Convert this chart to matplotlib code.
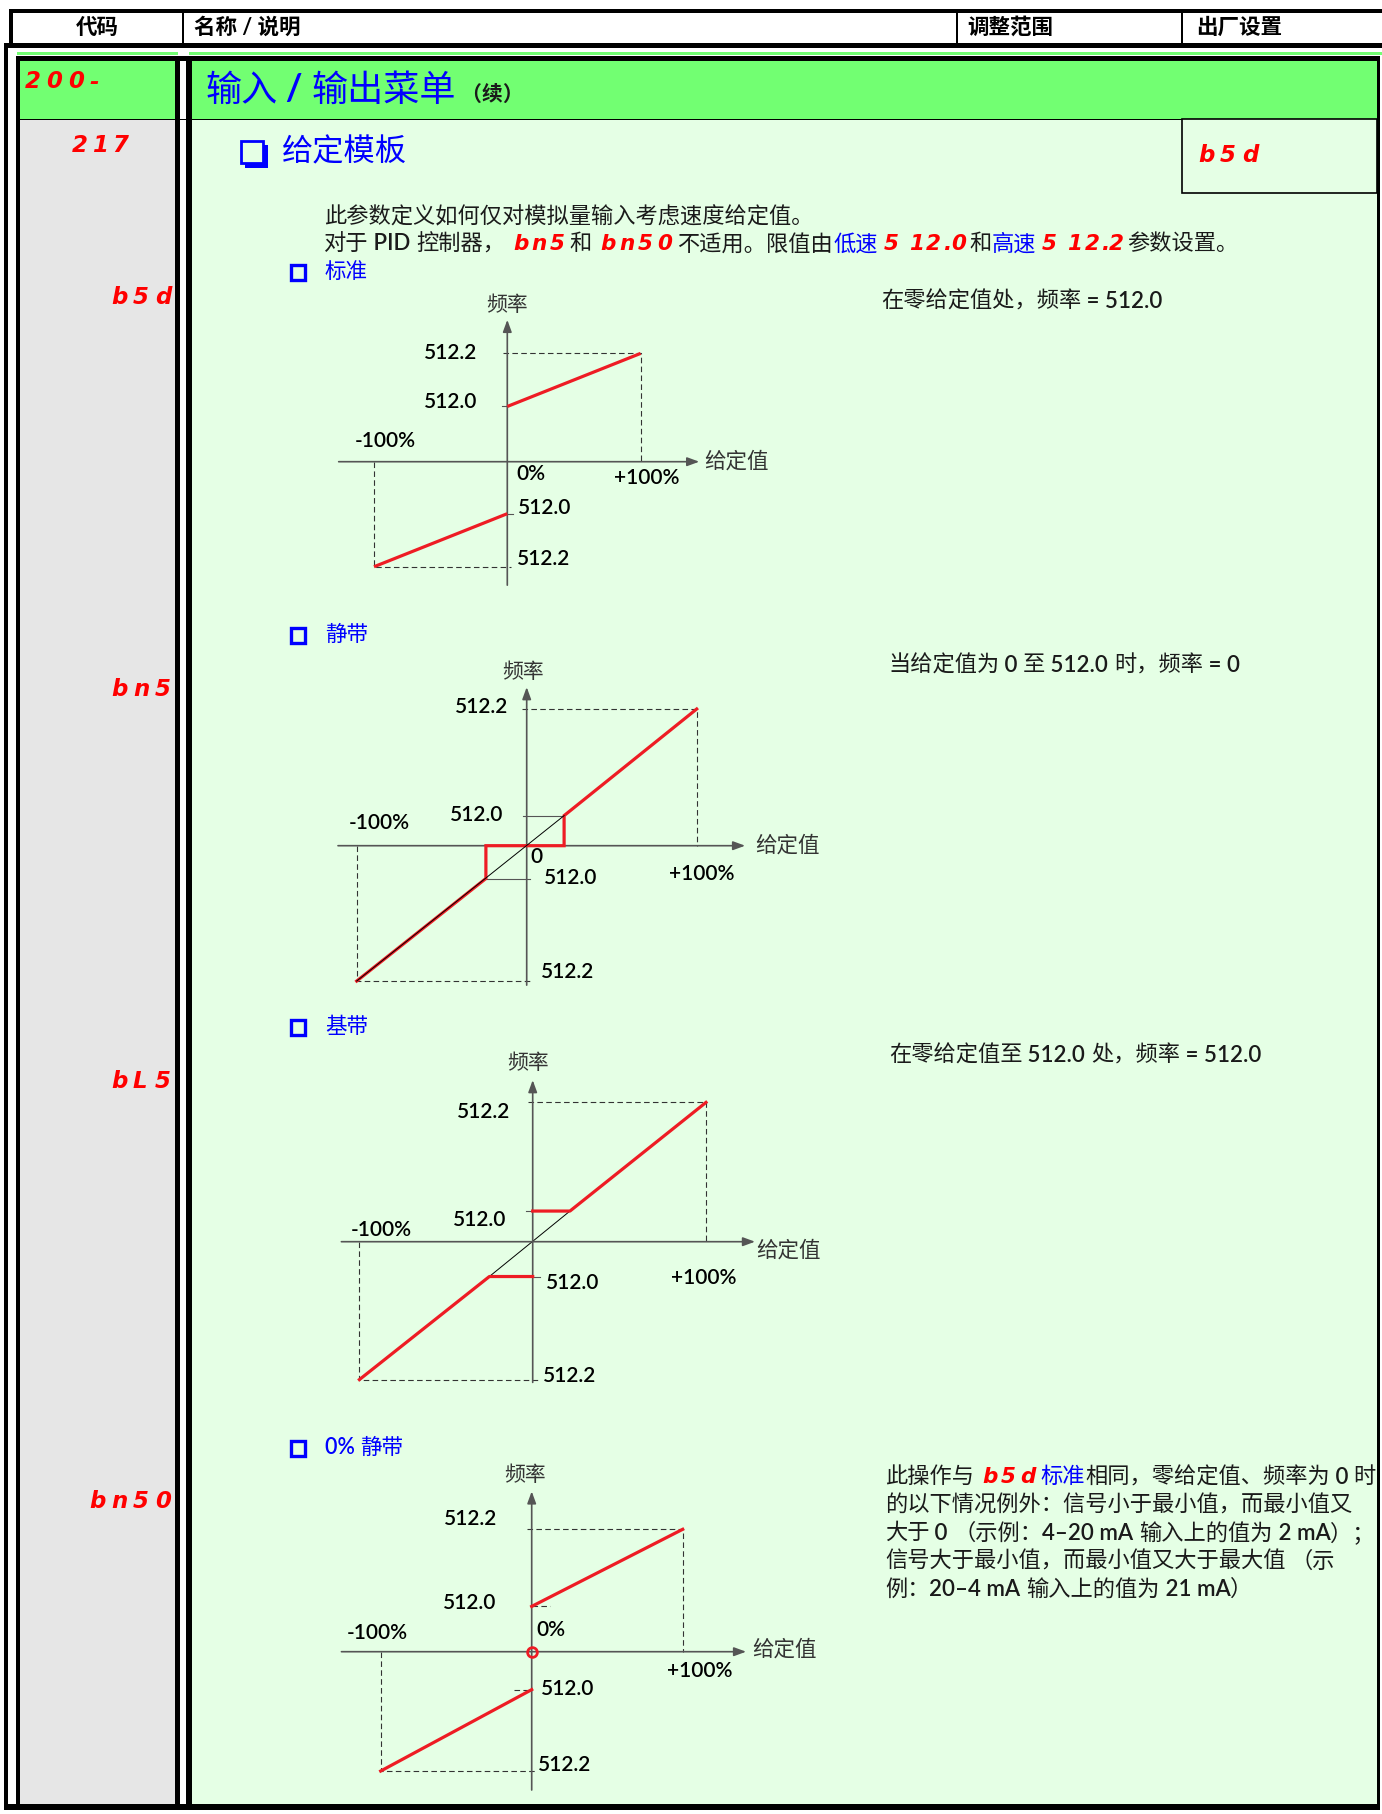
import re
import matplotlib
matplotlib.use('Agg')
import matplotlib.pyplot as plt
from matplotlib.patches import Rectangle

plt.rcParams['font.family'] = ['Lato', 'Noto Sans CJK SC', 'DejaVu Sans']

W, H = 1382, 1814

# ---------------- data ----------------
header_cols = ['代码', '名称 / 说明', '调整范围', '出厂设置']
menu_code = '200-'
param_code = '217'
factory_value = 'b5d'
LSP_LABEL = '512.0'
HSP_LABEL = '512.2'
x_labels = ['-100%', '+100%']

# x: reference in %, y: frequency as fraction of the high-speed level (schematic)
std_code, std_name = 'b5d', '标准'
std_pos_x = [0, 100]
std_pos_y = [0.51, 1.0]
std_neg_x = [-100, 0]
std_neg_y = [-0.97, -0.48]

bn5_code, bn5_name = 'bn5', '静带'
bn5_x = [-100, -24, -24, 22, 22, 100]
bn5_y = [-0.99, -0.24, 0.0, 0.0, 0.22, 1.0]
bn5_guide_x = [-100, 22]
bn5_guide_y = [-0.99, 0.22]

bl5_code, bl5_name = 'bL5', '基带'
bl5_neg_x = [-100, -25, 0]
bl5_neg_y = [-0.99, -0.25, -0.25]
bl5_pos_x = [0, 21.5, 100]
bl5_pos_y = [0.22, 0.22, 1.0]
bl5_guide_x = [-25, 21.5]
bl5_guide_y = [-0.25, 0.22]

bn50_code, bn50_name = 'bn50', '0% 静带'
bn50_pos_x = [0, 100]
bn50_pos_y = [0.37, 1.0]
bn50_neg_x = [-100, 0]
bn50_neg_y = [-0.975, -0.31]

RED = '#EE1C24'
BLUE = '#0000FF'
TXT = '#1a1a1a'
GREEN = '#72FF72'
LIGHT = '#E5FFE5'
GRAY = '#E6E6E6'
NUMW = 'semibold'

fig = plt.figure(figsize=(W / 100, H / 100), dpi=100)
pg = fig.add_axes([0, 0, 1, 1])
pg.set_xlim(0, W)
pg.set_ylim(H, 0)
pg.axis('off')
renderer = fig.canvas.get_renderer()


def box(x0, y0, x1, y1, fc, ec='none', lw=0, z=1):
    pg.add_patch(Rectangle((x0, y0), x1 - x0, y1 - y0, facecolor=fc,
                           edgecolor=ec, linewidth=lw, zorder=z))


def seg(x, y, s, size=16.5, pitch=22, ha='left'):
    """red seven-segment style code"""
    gw = size * 0.8
    steps = [pitch * (0.45 if c == '.' else 0.5 if c == ' ' else 1) for c in s]
    if ha == 'right':
        x -= sum(steps) - pitch + gw
    for c, st in zip(s, steps):
        if c != ' ':
            pg.text(x, y, c, fontsize=size, color='red', family='DejaVu Sans',
                    style='oblique', weight='bold', va='center', ha='left', zorder=5)
        x += st
    return x - pitch + gw


def rich(x, y, parts, size=16):
    for txt, kw in parts:
        if kw.get('seg'):
            x = seg(x + kw.get('pad', 8), y, txt, size=kw.get('size', 15.5),
                    pitch=kw.get('pitch', 18)) + kw.get('pad', 8)
            continue
        runs = [txt] if kw.get('weight') else re.findall(r'[ -~–]+|[^ -~–]+', txt)
        for r in runs:
            latin = re.match(r'[ -~–]', r) is not None
            w = kw.get('weight', NUMW if latin else 'normal')
            t = pg.text(x, y + kw.get('dy', 0), r, fontsize=kw.get('size', size),
                        color=kw.get('color', TXT), weight=w,
                        va='center', ha='left', zorder=5)
            x += t.get_window_extent(renderer).width
    return x


# ---------------- page frame ----------------
# header
box(9, 9, W, 13, 'black')
box(9, 9, 13, 48, 'black')
box(3.6, 43, W, 48, 'black')
for xd in [183, 957, 1182]:
    box(xd - 0.7, 13, xd + 0.7, 43, 'black')
pg.text(97, 27, header_cols[0], fontsize=15.5, weight='bold', ha='center', va='center')
for xt, s in zip([194, 967, 1196], header_cols[1:]):
    pg.text(xt, 27, s, fontsize=15.5, weight='bold', ha='left', va='center')

# body
box(3.6, 43, 8, 1810, 'black')
box(17, 52, 178, 55, GREEN)
box(189, 52, W, 55, GREEN)
box(15.6, 56, 1380, 61, 'black')
box(20, 61, 175, 119, GREEN)
box(192, 61, 1377, 119, GREEN)
box(20, 119, 175, 1804, GRAY)
box(192, 119, 1377, 1804, LIGHT)
box(20, 118.5, 1377, 120, 'black', z=2)
box(15.6, 56, 20, 1810, 'black')
box(175, 56, 180, 1810, 'black')
box(186, 56, 192, 1810, 'black')
box(1377, 56, 1380, 1810, 'black')
box(3.6, 1804, 1380, 1810, 'black')
box(1182, 119, 1377, 193, LIGHT, ec='black', lw=1.2, z=2)

# codes
seg(25, 82, menu_code, pitch=21.5)
seg(72, 146, param_code, pitch=20)
seg(1198, 155, factory_value)
seg(168, 298, std_code, ha='right')
seg(168, 689, bn5_code, ha='right')
seg(168, 1081, bl5_code, ha='right')
seg(168, 1501, bn50_code, ha='right')

# title row
rich(205, 90, [('输入', dict(color=BLUE, size=26)),
               (' / ', dict(color=BLUE, size=26, weight='bold')),
               ('输出菜单', dict(color=BLUE, size=26)),
               (' （续）', dict(size=15, weight='bold', dy=5))])

# parameter heading with shadowed box
box(245, 145, 268, 168, BLUE, z=3)
box(241, 141, 263, 163, LIGHT, ec=BLUE, lw=2, z=4)
pg.text(282, 152, '给定模板', fontsize=22.5, color=BLUE, va='center', ha='left')

rich(324, 217, [('此参数定义如何仅对模拟量输入考虑速度给定值。', {})])
rich(324, 244, [('对于 PID 控制器，', {}), ('bn5', dict(seg=True)), ('和', {}),
                ('bn50', dict(seg=True, pitch=19)), ('不适用。限值由', {}),
                ('低速', dict(color=BLUE)), ('5 12.0', dict(seg=True, pitch=17, pad=6)),
                ('和', {}), ('高速', dict(color=BLUE)),
                ('5 12.2', dict(seg=True, pitch=17, pad=6)), ('参数设置。', {})])

# sub headings
for yy, name in [(272, std_name), (635, bn5_name), (1027, bl5_name), (1448, bn50_name)]:
    box(291, yy - 7.5, 305, yy + 7.5, 'none', ec=BLUE, lw=2.4, z=3)
    rich(325, yy, [(name, dict(color=BLUE, size=15.5))])

# right-hand remarks
rich(881, 301, [('在零给定值处，频率 = 512.0', {})])
rich(888, 665, [('当给定值为 0 至 512.0 时，频率 = 0', {})])
rich(889, 1055, [('在零给定值至 512.0 处，频率 = 512.0', {})])
para_y = [1477, 1505.5, 1533, 1561, 1589]
rich(885, para_y[0], [('此操作与', {}), ('b5d', dict(seg=True, pitch=19)),
                      ('标准', dict(color=BLUE)), ('相同，零给定值、频率为 0 时', {})])
rich(885, para_y[1], [('的以下情况例外：信号小于最小值，而最小值又', {})])
rich(885, para_y[2], [('大于 0 （示例：4–20 mA 输入上的值为 2 mA）；', {})])
rich(885, para_y[3], [('信号大于最小值，而最小值又大于最大值 （示', {})])
rich(885, para_y[4], [('例：20–4 mA 输入上的值为 21 mA）', {})])


# ---------------- diagrams ----------------
def diagram(ox, oy, sx, sy, xext, yext):
    pad = 12
    xl, xr = xext[0] - pad, xext[1] + pad
    yb, yt = yext[0] - 0.1, yext[1] + 0.1
    left = ox + xl * sx
    top = oy - yt * sy
    ax = fig.add_axes([left / W, 1 - (top + (yt - yb) * sy) / H,
                       (xr - xl) * sx / W, (yt - yb) * sy / H])
    ax.set_xlim(xl, xr)
    ax.set_ylim(yb, yt)
    ax.axis('off')
    ax.patch.set_visible(False)
    ap = dict(arrowstyle='-|>,head_length=0.6,head_width=0.22', color='#555',
              lw=1.2, shrinkA=0, shrinkB=0, mutation_scale=12)
    ax.annotate('', xy=(xext[1], 0), xytext=(xext[0], 0), arrowprops=ap)
    ax.annotate('', xy=(0, yext[1]), xytext=(0, yext[0]), arrowprops=ap)
    return ax


def frame(ax, top, bot, x0=-3):
    kw = dict(color='#333', lw=0.8, ls=(0, (5, 3)), zorder=1)
    ax.plot([x0, 100, 100], [top, top, 0], **kw)
    ax.plot([-100, -100, -x0], [0, bot, bot], **kw)


def labels(items):
    for s, x, y, ha in items:
        pg.text(x, y, s, fontsize=15, color='black', weight=NUMW,
                ha=ha, va='center', zorder=6)


def axis_names(fx, fy, gx, gy):
    pg.text(fx, fy, '频率', fontsize=15, color='#333', ha='center', va='center', zorder=6)
    pg.text(gx, gy, '给定值', fontsize=15.5, color='#333', ha='left', va='center', zorder=6)


lw_red = 2.3

# 1: standard
a1 = diagram(507.3, 461.7, 1.333, 108.3, (-126.5, 144), (-1.14, 1.31))
frame(a1, max(std_pos_y), min(std_neg_y))
a1.plot(std_pos_x, std_pos_y, color=RED, lw=lw_red, solid_capstyle='butt', zorder=3)
a1.plot(std_neg_x, std_neg_y, color=RED, lw=lw_red, solid_capstyle='butt', zorder=3)
a1.plot([-4, 0], [std_pos_y[0]] * 2, color='#555', lw=0.8)
a1.plot([0, 4], [std_neg_y[-1]] * 2, color='#555', lw=0.8)
axis_names(506.7, 305, 704, 461.7)
labels([(HSP_LABEL, 477.3, 353.3, 'right'), (LSP_LABEL, 477.3, 401.7, 'right'),
        (x_labels[0], 385, 441, 'center'), ('0%', 516, 474, 'left'),
        (x_labels[1], 646.7, 478, 'center'), (LSP_LABEL, 518.3, 507.7, 'left'),
        (HSP_LABEL, 516.7, 559.3, 'left')])

# 2: dead band
a2 = diagram(526.7, 845.7, 1.70, 136.7, (-111, 128.5), (-1.02, 1.16))
frame(a2, max(bn5_y), min(bn5_y))
a2.plot([-2, bn5_x[3]], [bn5_y[4]] * 2, color='#555', lw=0.8)
a2.plot([bn5_x[1], 2], [bn5_y[1]] * 2, color='#555', lw=0.8)
a2.plot(bn5_x, bn5_y, color=RED, lw=lw_red, solid_joinstyle='miter', zorder=3)
a2.plot(bn5_guide_x, bn5_guide_y, color='black', lw=0.7, zorder=4)
axis_names(522.7, 671.7, 755, 845.7)
labels([(HSP_LABEL, 508.3, 706.7, 'right'), (LSP_LABEL, 503.3, 815, 'right'),
        (x_labels[0], 379.3, 823.3, 'center'), ('0', 530.7, 857.3, 'left'),
        (LSP_LABEL, 544, 877.7, 'left'), (x_labels[1], 701.7, 874.3, 'center'),
        (HSP_LABEL, 540.7, 971.7, 'left')])

# 3: base band
a3 = diagram(532.7, 1241.7, 1.733, 139.3, (-110.4, 128.3), (-1.01, 1.16))
frame(a3, max(bl5_pos_y), min(bl5_neg_y))
a3.plot(bl5_guide_x, bl5_guide_y, color='black', lw=0.7, zorder=2)
a3.plot([-4, 0], [bl5_pos_y[0]] * 2, color='#555', lw=0.8)
a3.plot([0, 4], [bl5_neg_y[-1]] * 2, color='#555', lw=0.8)
a3.plot(bl5_neg_x, bl5_neg_y, color=RED, lw=lw_red, zorder=3)
a3.plot(bl5_pos_x, bl5_pos_y, color=RED, lw=lw_red, zorder=3)
axis_names(527.7, 1063.3, 756.7, 1250.7)
labels([(HSP_LABEL, 510, 1111.7, 'right'), (LSP_LABEL, 506.7, 1220, 'right'),
        (x_labels[0], 381.7, 1230, 'center'), (LSP_LABEL, 545.7, 1283.3, 'left'),
        (x_labels[1], 704, 1278.3, 'center'), (HSP_LABEL, 543.3, 1375.7, 'left')])

# 4: 0% dead band
a4 = diagram(531.7, 1651.7, 1.51, 122.4, (-126, 142), (-1.13, 1.31))
frame(a4, max(bn50_pos_y), min(bn50_neg_y))
dk = dict(color='#333', lw=0.8, ls=(0, (5, 3)))
a4.plot([0, 12], [bn50_pos_y[0]] * 2, **dk)
a4.plot([-12, 0], [bn50_neg_y[-1]] * 2, **dk)
a4.plot(bn50_pos_x, bn50_pos_y, color=RED, lw=lw_red, zorder=3)
a4.plot(bn50_neg_x, bn50_neg_y, color=RED, lw=lw_red, zorder=3)
a4.plot([0], [0], 'o', ms=7, mfc='none', mec=RED, mew=2, zorder=5)
axis_names(525, 1475, 752.7, 1649.3)
labels([(HSP_LABEL, 496.7, 1519, 'right'), (LSP_LABEL, 496.7, 1602.7, 'right'),
        ('0%', 536.7, 1630, 'left'), (x_labels[0], 377.3, 1632.7, 'center'),
        (x_labels[1], 700, 1670.7, 'center'), (LSP_LABEL, 540.7, 1689.3, 'left'),
        (HSP_LABEL, 538.3, 1765, 'left')])

fig.savefig('out.png', dpi=100)
